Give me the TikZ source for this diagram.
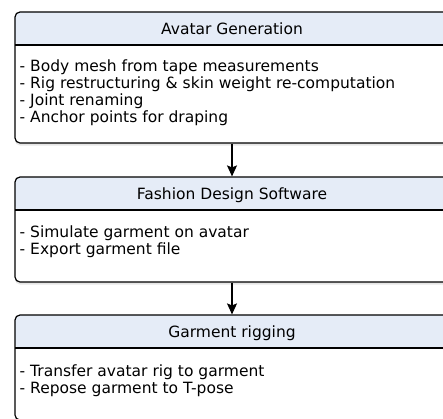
\documentclass[tikz,border=0pt]{standalone}
\usepackage{fontspec}
\setmainfont{DejaVu Sans}
\usepackage{tikz}
\usetikzlibrary{arrows.meta, positioning, shadows}

\definecolor{headfill}{RGB}{229,236,247}

\begin{document}
\begin{tikzpicture}[
        x=1pt, y=-1pt,
        % one panel per stage, header band drawn inside the outline
        panel/.style={rectangle, draw, line width=1.2pt, rounded corners=5pt, fill=white,
                      minimum width=434pt, inner sep=0pt,
                      drop shadow={opacity=0.2, shadow xshift=0pt, shadow yshift=-2.5pt},
                      path picture={
                          \fill[headfill] (path picture bounding box.north west) rectangle ([yshift=-33pt]path picture bounding box.north east);
                          \draw[line width=1.2pt] ([yshift=-33pt]path picture bounding box.north west) -- ([yshift=-33pt]path picture bounding box.north east);
                      }},
        head/.style={inner sep=0pt, anchor=base, font=\fontsize{15.5}{17}\selectfont},
        body/.style={inner sep=0pt, align=left, anchor=base west, font=\fontsize{15.5}{17}\selectfont},
        flow/.style={draw, line width=1.2pt, -{Stealth[length=11pt, width=10pt, inset=2pt]}},
    ]
    \useasboundingbox (0,0) rectangle (443,418);

    % Avatar stage
    \node (avatar) [panel, minimum height=131pt] at (232,77.5) {};
    \node (avatarhead) [head] at (232,34) {Avatar Generation};
    \node (avatarbody) [body] at (19.5,122) {- Body mesh from tape measurements\\
        - Rig restructuring \& skin weight re-computation\\
        - Joint renaming\\
        - Anchor points for draping};

    % Fashion design stage
    \node (fashion) [panel, minimum height=105pt] at (232,229.5) {};
    \node (fashionhead) [head] at (232,199) {Fashion Design Software};
    \node (fashionbody) [body] at (19.5,254) {- Simulate garment on avatar\\
        - Export garment file};

    % Rigging stage
    \node (rigging) [panel, minimum height=105pt] at (232,367.5) {};
    \node (rigginghead) [head] at (232,337) {Garment rigging};
    \node (riggingbody) [body] at (19.5,393) {- Transfer avatar rig to garment\\
        - Repose garment to T-pose};

    % connections
    \draw[flow] (avatar.south) -- (fashion.north);
    \draw[flow] (fashion.south) -- (rigging.north);

\end{tikzpicture}
\end{document}
